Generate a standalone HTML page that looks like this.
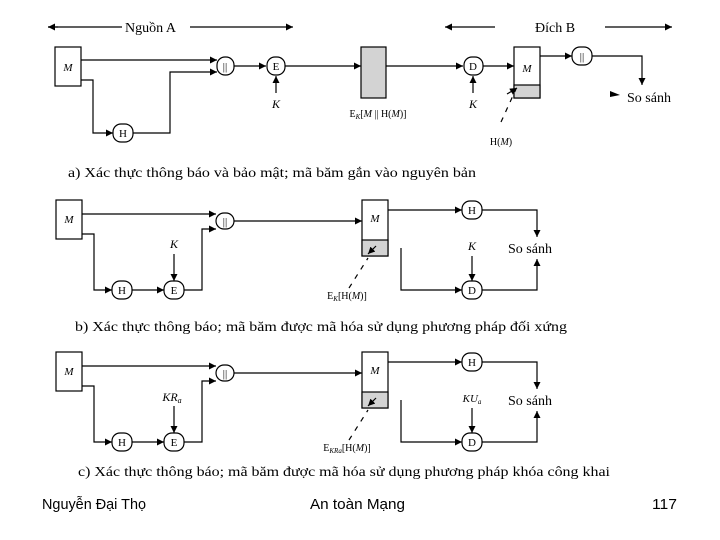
<!DOCTYPE html>
<html><head><meta charset="utf-8"><style>
body{margin:0;background:#fff}
svg{display:block}
text{font-family:"Liberation Serif",serif;fill:#000}
.s{font-family:"Liberation Sans",sans-serif}
</style></head><body>
<svg width="720" height="540" viewBox="0 0 720 540" xmlns="http://www.w3.org/2000/svg">
<defs><marker id="a" viewBox="0 0 10 10" refX="10" refY="5" markerWidth="7" markerHeight="7" orient="auto" markerUnits="userSpaceOnUse"><path d="M0,0L10,5L0,10z" fill="#000"/></marker></defs>
<g stroke="#000" stroke-width="1.2" fill="none">
<line x1="58" y1="27" x2="48" y2="27" marker-end="url(#a)"/>
<line x1="48" y1="27" x2="122" y2="27"/>
<line x1="190" y1="27" x2="293" y2="27" marker-end="url(#a)"/>
<line x1="495" y1="27" x2="445" y2="27" marker-end="url(#a)"/>
<line x1="605" y1="27" x2="672" y2="27" marker-end="url(#a)"/>
<rect x="55" y="47" width="26" height="39" fill="#fff"/>
<line x1="81" y1="60" x2="217" y2="60" marker-end="url(#a)"/>
<polyline points="81,80 93,80 93,133 113,133" marker-end="url(#a)"/>
<polyline points="133,133 170,133 170,72 217,72" marker-end="url(#a)"/>
<rect x="217" y="57" width="17" height="18" rx="8"/>
<line x1="234" y1="66" x2="266" y2="66" marker-end="url(#a)"/>
<rect x="267" y="57" width="18" height="18" rx="8"/>
<line x1="276" y1="93" x2="276" y2="76" marker-end="url(#a)"/>
<rect x="113" y="124" width="20" height="18" rx="8"/>
<line x1="285" y1="66" x2="361" y2="66" marker-end="url(#a)"/>
<rect x="361" y="47" width="25" height="51" fill="#d3d3d3"/>
<line x1="386" y1="66" x2="463" y2="66" marker-end="url(#a)"/>
<rect x="464" y="57" width="19" height="18" rx="8"/>
<line x1="473" y1="93" x2="473" y2="76" marker-end="url(#a)"/>
<line x1="483" y1="66" x2="514" y2="66" marker-end="url(#a)"/>
<rect x="514" y="47" width="26" height="51" fill="#fff"/>
<rect x="514" y="85" width="26" height="13" fill="#d3d3d3"/>
<line x1="540" y1="56" x2="572" y2="56" marker-end="url(#a)"/>
<rect x="572" y="47" width="20" height="18" rx="8"/>
<polyline points="592,56 642,56 642,85" marker-end="url(#a)"/>
<line x1="501" y1="122" x2="516" y2="89" stroke-dasharray="5,6"/>
<line x1="507" y1="94" x2="517" y2="88" marker-end="url(#a)"/>
<rect x="56" y="200" width="26" height="39" fill="#fff"/>
<line x1="82" y1="214" x2="216" y2="214" marker-end="url(#a)"/>
<polyline points="82,234 94,234 94,290 112,290" marker-end="url(#a)"/>
<line x1="132" y1="290" x2="164" y2="290" marker-end="url(#a)"/>
<polyline points="184,290 202,290 202,229 216,229" marker-end="url(#a)"/>
<rect x="216" y="213" width="18" height="16" rx="8"/>
<rect x="112" y="281" width="20" height="18" rx="8"/>
<rect x="164" y="281" width="20" height="18" rx="8"/>
<line x1="174" y1="254" x2="174" y2="281" marker-end="url(#a)"/>
<line x1="234" y1="221" x2="362" y2="221" marker-end="url(#a)"/>
<rect x="362" y="200" width="26" height="56" fill="#fff"/>
<rect x="362" y="240" width="26" height="16" fill="#d3d3d3"/>
<line x1="349" y1="288" x2="368" y2="258" stroke-dasharray="5,6"/>
<line x1="376" y1="246" x2="368" y2="254" marker-end="url(#a)"/>
<line x1="388" y1="210" x2="462" y2="210" marker-end="url(#a)"/>
<rect x="462" y="201" width="20" height="18" rx="8"/>
<polyline points="482,210 537,210 537,237" marker-end="url(#a)"/>
<polyline points="401,248 401,290 462,290" marker-end="url(#a)"/>
<rect x="462" y="281" width="20" height="18" rx="8"/>
<line x1="472" y1="256" x2="472" y2="281" marker-end="url(#a)"/>
<polyline points="482,290 537,290 537,259" marker-end="url(#a)"/>
<rect x="56" y="352" width="26" height="39" fill="#fff"/>
<line x1="82" y1="366" x2="216" y2="366" marker-end="url(#a)"/>
<polyline points="82,386 94,386 94,442 112,442" marker-end="url(#a)"/>
<line x1="132" y1="442" x2="164" y2="442" marker-end="url(#a)"/>
<polyline points="184,442 202,442 202,381 216,381" marker-end="url(#a)"/>
<rect x="216" y="365" width="18" height="16" rx="8"/>
<rect x="112" y="433" width="20" height="18" rx="8"/>
<rect x="164" y="433" width="20" height="18" rx="8"/>
<line x1="174" y1="406" x2="174" y2="433" marker-end="url(#a)"/>
<line x1="234" y1="373" x2="362" y2="373" marker-end="url(#a)"/>
<rect x="362" y="352" width="26" height="56" fill="#fff"/>
<rect x="362" y="392" width="26" height="16" fill="#d3d3d3"/>
<line x1="349" y1="440" x2="368" y2="410" stroke-dasharray="5,6"/>
<line x1="376" y1="398" x2="368" y2="406" marker-end="url(#a)"/>
<line x1="388" y1="362" x2="462" y2="362" marker-end="url(#a)"/>
<rect x="462" y="353" width="20" height="18" rx="8"/>
<polyline points="482,362 537,362 537,389" marker-end="url(#a)"/>
<polyline points="401,400 401,442 462,442" marker-end="url(#a)"/>
<rect x="462" y="433" width="20" height="18" rx="8"/>
<line x1="472" y1="408" x2="472" y2="433" marker-end="url(#a)"/>
<polyline points="482,442 537,442 537,411" marker-end="url(#a)"/>
</g>
<path d="M610,91L620,95L610,97z" fill="#000"/>
<g font-size="11" text-anchor="middle">
<text x="68" y="71" font-style="italic">M</text>
<text x="225" y="70">||</text><text x="276" y="70">E</text>
<text x="276" y="108" font-style="italic" font-size="12">K</text>
<text x="123" y="137">H</text>
<text x="378" y="117" font-size="10">E<tspan font-size="7" dy="2" font-style="italic">K</tspan><tspan dy="-2">[</tspan><tspan font-style="italic">M</tspan> || H(<tspan font-style="italic">M</tspan>)]</text>
<text x="473" y="70">D</text>
<text x="473" y="108" font-style="italic" font-size="12">K</text>
<text x="527" y="72" font-style="italic">M</text>
<text x="582" y="60">||</text>
<text x="501" y="145" font-size="10">H(<tspan font-style="italic">M</tspan>)</text>
<text x="69" y="223" font-style="italic">M</text>
<text x="225" y="225">||</text><text x="122" y="294">H</text><text x="174" y="294">E</text>
<text x="174" y="248" font-style="italic" font-size="12">K</text>
<text x="375" y="222" font-style="italic">M</text>
<text x="347" y="299" font-size="10">E<tspan font-size="7" dy="2" font-style="italic">K</tspan><tspan dy="-2">[H(</tspan><tspan font-style="italic">M</tspan>)]</text>
<text x="472" y="214">H</text><text x="472" y="294">D</text>
<text x="472" y="250" font-style="italic" font-size="12">K</text>
<text x="69" y="375" font-style="italic">M</text>
<text x="225" y="377">||</text><text x="122" y="446">H</text><text x="174" y="446">E</text>
<text x="172" y="401" font-style="italic" font-size="12">KR<tspan font-size="8" dy="2">a</tspan></text>
<text x="375" y="374" font-style="italic">M</text>
<text x="347" y="451" font-size="10">E<tspan font-size="7" dy="2" font-style="italic">KRa</tspan><tspan dy="-2">[H(</tspan><tspan font-style="italic">M</tspan>)]</text>
<text x="472" y="366">H</text><text x="472" y="446">D</text>
<text x="472" y="402" font-style="italic" font-size="11">KU<tspan font-size="7" dy="2">a</tspan></text>
</g>
<g font-size="14">
<text x="125" y="32">Nguồn A</text>
<text x="535" y="32">Đích B</text>
<text x="627" y="102">So sánh</text>
<text x="508" y="253">So sánh</text>
<text x="508" y="405">So sánh</text>
<text x="68" y="177" textLength="408" lengthAdjust="spacingAndGlyphs">a) Xác thực thông báo và bảo mật; mã băm gắn vào nguyên bản</text>
<text x="75" y="331" textLength="492" lengthAdjust="spacingAndGlyphs">b) Xác thực thông báo; mã băm được mã hóa sử dụng phương pháp đối xứng</text>
<text x="78" y="476" textLength="532" lengthAdjust="spacingAndGlyphs">c) Xác thực thông báo; mã băm được mã hóa sử dụng phương pháp khóa công khai</text>
</g>
<g font-size="15">
<text class="s" x="42" y="509" textLength="104" lengthAdjust="spacingAndGlyphs">Nguyễn Đại Thọ</text>
<text class="s" x="310" y="509" textLength="95" lengthAdjust="spacingAndGlyphs">An toàn Mạng</text>
<text class="s" x="652" y="509" textLength="25" lengthAdjust="spacingAndGlyphs">117</text>
</g>
</svg>
</body></html>
